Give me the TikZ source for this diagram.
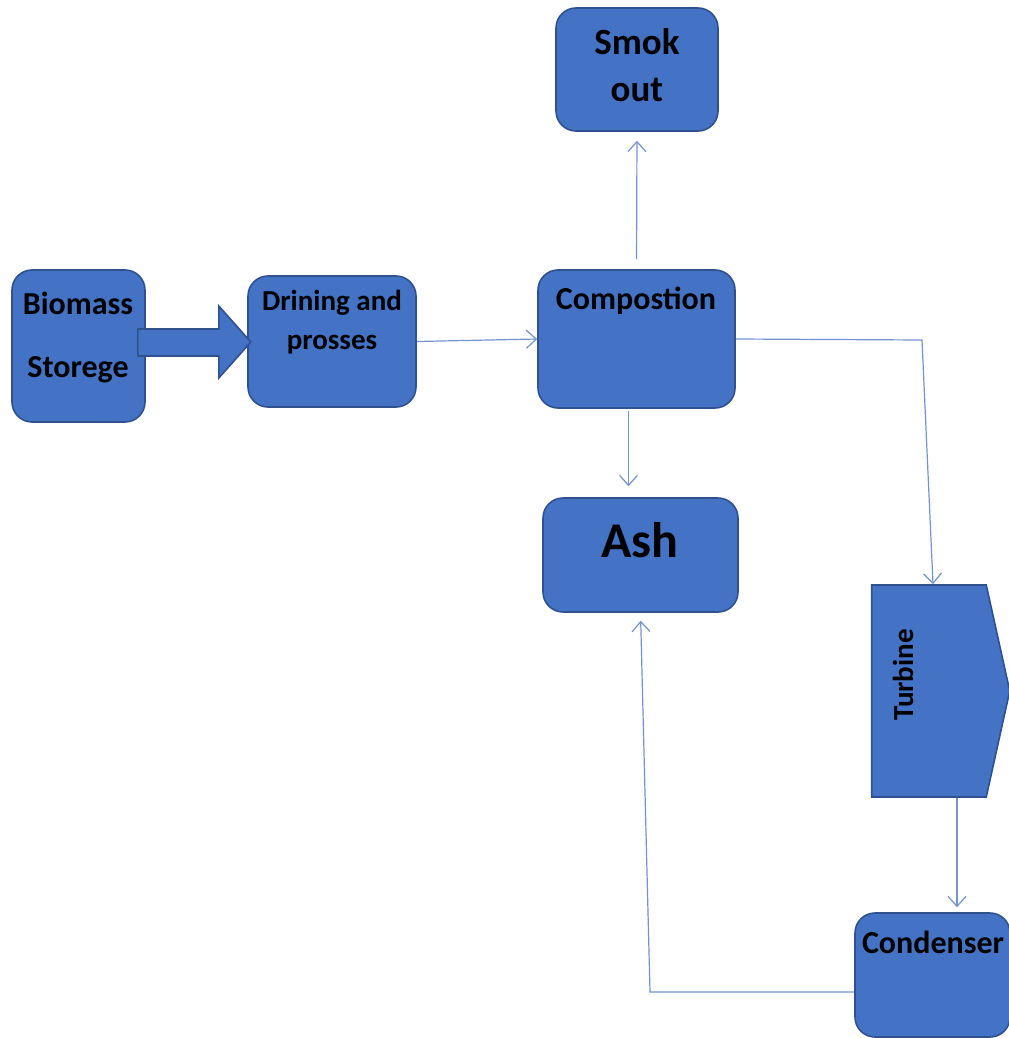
\documentclass[tikz,border=0pt]{standalone}
\usepackage{fontspec}
\setmainfont{Carlito}
\usepackage{xcolor}
\usepackage{tikz}
\usetikzlibrary{arrows.meta,shapes.symbols}
\definecolor{boxblue}{HTML}{4472C4}
\definecolor{edgeblue}{HTML}{2F528F}
\definecolor{lineblue}{RGB}{114,147,208}

\begin{document}
\begin{tikzpicture}[x=0.5pt, y=-0.5pt,
		box/.style={draw=edgeblue, line width=0.8pt, fill=boxblue, rounded corners=10pt, inner sep=0pt},
		lbl/.style={align=center, inner sep=0pt},
		link/.style={draw=lineblue, line width=0.6pt, -{Straight Barb[length=5pt, width=9pt]}}]
		\useasboundingbox (0,0) rectangle (1008,1038);
		\node[box, minimum width=66.5pt, minimum height=76pt] (bio) at (78.5,346) {};
		\node[box, minimum width=84pt, minimum height=65.5pt] (dry) at (332,341.5) {};
		\node[box, minimum width=98.5pt, minimum height=69pt] (comp) at (636.5,339) {};
		\node[box, minimum width=81pt, minimum height=61.5pt] (smoke) at (637,69.5) {};
		\node[box, minimum width=97.5pt, minimum height=57pt] (ash) at (640.5,555) {};
		\node[box, minimum width=77.5pt, minimum height=62pt] (cond) at (932.5,975) {};
		\node[box, rounded corners=0pt, signal, signal to=east, signal pointer angle=155, minimum width=69pt, minimum height=106pt] (turb) at (929,691) {};
		\filldraw[box, rounded corners=0pt] ([xshift=-4pt, yshift=8.5pt]bio.east) -- ++(81,0) -- ++(0,-23) -- ++(32,36) -- ++(-32,36) -- ++(0,-22) -- ++(-81,0) -- cycle;
		\node[lbl, font=\bfseries\fontsize{16}{19}\selectfont] (bio-t) at (78,337) {Biomass\\[12.5pt]Storege};
		\node[lbl, font=\bfseries\fontsize{14.5}{17.5}\selectfont] (dry-t) at (332,322) {Drining and\\[2pt]prosses};
		\node[lbl, font=\bfseries\fontsize{16}{19}\selectfont] (comp-t) at (636,301) {Compostion};
		\node[lbl, font=\bfseries\fontsize{18.5}{22}\selectfont] (smoke-t) at (637,65) {Smok\\[1.5pt]out};
		\node[lbl, font=\bfseries\fontsize{25}{30}\selectfont] (ash-t) at (640,540) {Ash};
		\node[lbl, font=\bfseries\fontsize{16}{19}\selectfont] (cond-t) at (933,942) {Condenser};
		\node[lbl, font=\bfseries\fontsize{14.5}{17}\selectfont, rotate=90] (turb-t) at (903,675) {Turbine};
		\draw[link] (dry.east) -- (comp.west);
		\draw[link, shorten <=5pt, shorten >=4.5pt] (comp.north) -- (smoke.south);
		\draw[link, shorten <=1pt, shorten >=5.5pt] ([xshift=-4pt]comp.south) -- ([xshift=-4pt]comp.south |- ash.north);
		\coordinate (steam) at (922,340);
		\draw[link] (comp.east) -- (steam) -- ([xshift=2pt]turb.north);
		\draw[link, shorten >=2.5pt] ([xshift=14pt]turb.south) -- ([xshift=14pt]turb.south |- cond.north);
		\coordinate (back) at (650,992);
		\draw[link, shorten >=4pt] ([yshift=-8.5pt]cond.west) -- (back) -- (ash.south);
\end{tikzpicture}
\end{document}
